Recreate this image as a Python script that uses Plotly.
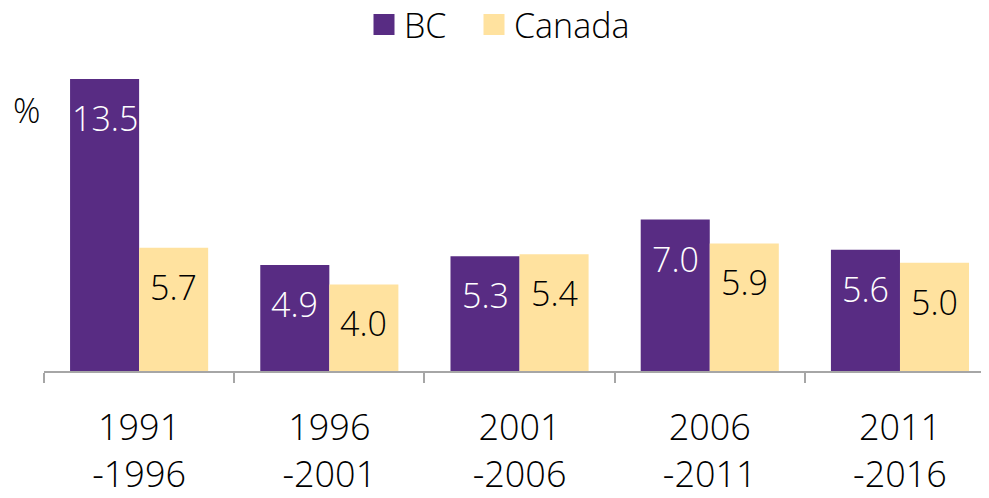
import plotly.graph_objects as go

categories = ["1991<br>-1996", "1996<br>-2001", "2001<br>-2006", "2006<br>-2011", "2011<br>-2016"]
bc_values = [13.5, 4.9, 5.3, 7.0, 5.6]
canada_values = [5.7, 4.0, 5.4, 5.9, 5.0]
series_names = ["BC", "Canada"]

PURPLE = "#582C83"
YELLOW = "#FFE29F"
FONT = "Open Sans"
colors = [PURPLE, YELLOW]

# figure is drawn inside the page's 8px body margin
W, H = 981, 490
ML, MR, MT, MB = 36, 0, 71, 127
PW, PH = W - ML - MR, H - MT - MB

fig = go.Figure()
fig.add_trace(go.Bar(x=categories, y=bc_values, name=series_names[0], showlegend=False,
                     marker=dict(color=PURPLE, line=dict(width=0))))
fig.add_trace(go.Bar(x=categories, y=canada_values, name=series_names[1], showlegend=False,
                     marker=dict(color=YELLOW, line=dict(width=0))))
# legend entries with larger square swatches, one legend per series
for name, col, lg in zip(series_names, colors, ["legend", "legend2"]):
    fig.add_trace(go.Scatter(x=[None], y=[None], mode="markers", name=name, legend=lg,
                             marker=dict(symbol="square", size=24, color=col,
                                         line=dict(width=5, color=col)),
                             hoverinfo="skip"))

annotations = []
for i, v in enumerate(bc_values):
    annotations.append(dict(x=categories[i], y=v, xref="x", yref="y", text=f"{v:.1f}",
                            showarrow=False, yanchor="top", xanchor="center",
                            xshift=-34.5, yshift=-14,
                            font=dict(family=FONT, size=34, color="white", weight=300)))
for i, v in enumerate(canada_values):
    annotations.append(dict(x=categories[i], y=v, xref="x", yref="y", text=f"{v:.1f}",
                            showarrow=False, yanchor="top", xanchor="center",
                            xshift=34.5, yshift=-14,
                            font=dict(family=FONT, size=34, color="black", weight=300)))
annotations.append(dict(x=(18 - ML) / PW, y=(MT + PH - 102) / PH, xref="paper", yref="paper",
                        text="%", showarrow=False, xanchor="center", yanchor="middle",
                        font=dict(family=FONT, size=34, color="black", weight=300)))

legend_common = dict(orientation="h", yanchor="middle", y=(MT + PH - 17) / PH, xanchor="left",
                     font=dict(family=FONT, size=34, color="black", weight=300),
                     bgcolor="rgba(0,0,0,0)")

fig.update_layout(
    width=W, height=H,
    margin=dict(l=ML, r=MR, t=MT, b=MB, autoexpand=False),
    paper_bgcolor="white", plot_bgcolor="white",
    barmode="group", bargap=0.274, bargroupgap=0,
    font=dict(family=FONT, size=34, color="black", weight=300),
    showlegend=True,
    legend=dict(x=(356 - ML) / PW, **legend_common),
    legend2=dict(x=(466 - ML) / PW, **legend_common),
    xaxis=dict(type="category", range=[-0.5, 4.468], showline=True, linecolor="#A6A6A6",
               linewidth=1.5, ticks="outside", tickson="boundaries", ticklen=10,
               tickcolor="#A6A6A6", tickwidth=1.5, showgrid=False, automargin=False,
               ticklabelstandoff=24,
               tickfont=dict(family=FONT, size=36, color="black", weight=300)),
    yaxis=dict(range=[0, 13.5], visible=False, showgrid=False, zeroline=False, automargin=False),
    annotations=annotations,
)

fig.write_html("out.html")
